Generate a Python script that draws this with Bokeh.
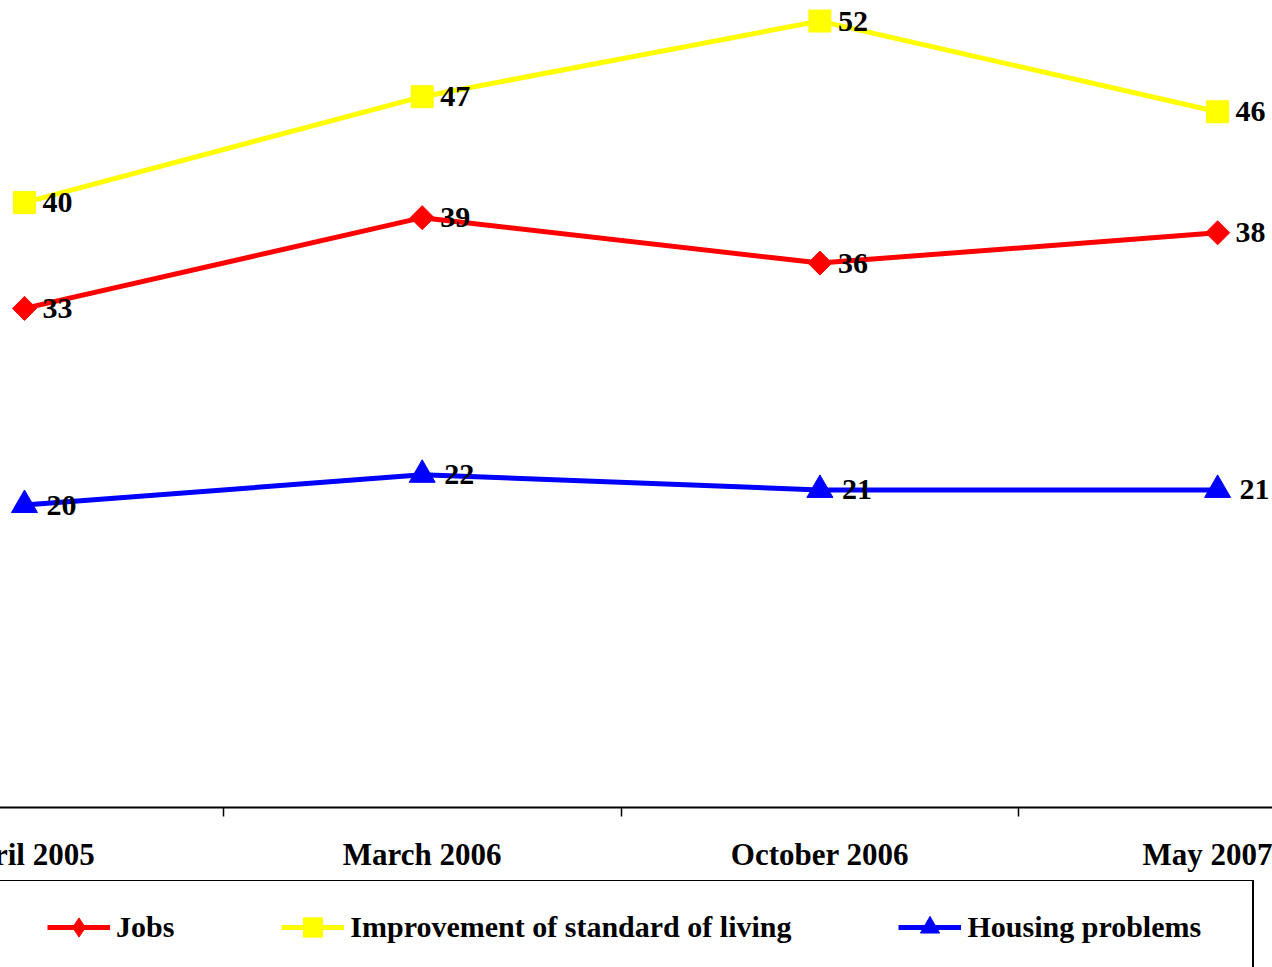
import math
from bokeh.plotting import figure
from bokeh.layouts import column
from bokeh.models import Range1d, FixedTicker, Legend, LegendItem, ColumnDataSource, LabelSet
from bokeh.embed import file_html
from bokeh.resources import INLINE

categories = ["April 2005", "March 2006", "October 2006", "May 2007"]
jobs = [33, 39, 36, 38]
living = [40, 47, 52, 46]
housing = [20, 22, 21, 21]

FONT = "Liberation Serif"
xs = list(range(len(categories)))

EXT = 60  # canvases extend this far left of the page edge
W = 1272 + EXT

p = figure(width=W, height=880, output_backend="svg", toolbar_location=None,
           x_range=Range1d(-0.2112, 3.138), y_range=Range1d(0, 53.36),
           y_axis_location=None, min_border_left=0, min_border_right=0,
           min_border_top=0, min_border_bottom=73, outline_line_color=None)
p.grid.visible = False

ax = p.xaxis[0]
ax.ticker = FixedTicker(ticks=xs, minor_ticks=[i + 0.5 for i in xs[:-1]])
ax.major_label_overrides = {i: c for i, c in enumerate(categories)}
ax.major_tick_in = 0
ax.major_tick_out = 0
ax.minor_tick_in = 0
ax.minor_tick_out = 9
ax.minor_tick_line_width = 1.5
ax.minor_tick_line_color = "black"
ax.axis_line_width = 2
ax.axis_line_color = "black"
ax.major_label_text_font = FONT
ax.major_label_text_font_size = "31px"
ax.major_label_text_font_style = "bold"
ax.major_label_text_color = "black"
ax.major_label_standoff = 20

series = [
    ("Jobs", jobs, "#FF0000", dict(marker="square", angle=math.pi / 4, size=17),
     dict(marker="diamond"), 18),
    ("Improvement of standard of living", living, "#FFFF00", dict(marker="square", size=22),
     dict(marker="square"), 18),
    ("Housing problems", housing, "#0000FF", dict(marker="triangle", size=26),
     dict(marker="triangle"), 22),
]

# legend strip below the chart
LH = 87
p2 = figure(width=W, height=LH, output_backend="svg", toolbar_location=None,
            x_range=Range1d(0, 1), y_range=Range1d(0, 1),
            x_axis_location=None, y_axis_location=None,
            min_border_left=0, min_border_right=0, min_border_top=0,
            min_border_bottom=0, outline_line_color=None)
p2.grid.visible = False

items = []
for name, vals, col, mk, lmk, off in series:
    src = ColumnDataSource(dict(x=xs, y=vals, t=[str(v) for v in vals]))
    p.line("x", "y", source=src, line_color=col, line_width=5)
    p.scatter("x", "y", source=src, fill_color=col, line_color=col, **mk)
    lbl = LabelSet(x="x", y="y", text="t", source=src, x_offset=off,
                   text_baseline="middle", text_align="left",
                   text_font=FONT, text_font_size="30px", text_font_style="bold",
                   text_color="black")
    p.add_layout(lbl)
    # hidden proxies in the legend strip, styled like the series
    ln2 = p2.line("x", "y", source=src, line_color=col, line_width=5, visible=False)
    sc2 = p2.scatter("x", "y", source=src, fill_color=col, line_color=col,
                     visible=False, **lmk)
    items.append(LegendItem(label=name, renderers=[ln2, sc2]))

# legend frame (box only)
BOX_H = 150
frame_leg = Legend(items=[LegendItem(label="·", renderers=[items[0].renderers[0]])],
                   orientation="horizontal", location=(EXT - 2, LH - 3 - BOX_H),
                   glyph_width=0, glyph_height=BOX_H, label_standoff=0,
                   label_width=1252, padding=0, margin=0,
                   border_line_color="black", border_line_width=2, border_line_alpha=1.0,
                   label_text_alpha=0, label_text_font_size="10px",
                   background_fill_color="white", background_fill_alpha=1.0)
p2.add_layout(frame_leg, "center")

# legend items
GH = 48
legend = Legend(items=items, orientation="horizontal", location=(EXT + 47, LH - 23 - GH),
                glyph_width=63, glyph_height=GH, label_standoff=6, spacing=107,
                padding=0, margin=0, border_line_alpha=0,
                label_text_font=FONT, label_text_font_size="30px",
                label_text_font_style="bold", label_text_color="black",
                background_fill_alpha=0)
p2.add_layout(legend, "center")

layout = column(p, p2, spacing=0)
layout.margin = (0, 0, 0, -EXT)

open("out.html", "w").write(file_html(layout, INLINE))
